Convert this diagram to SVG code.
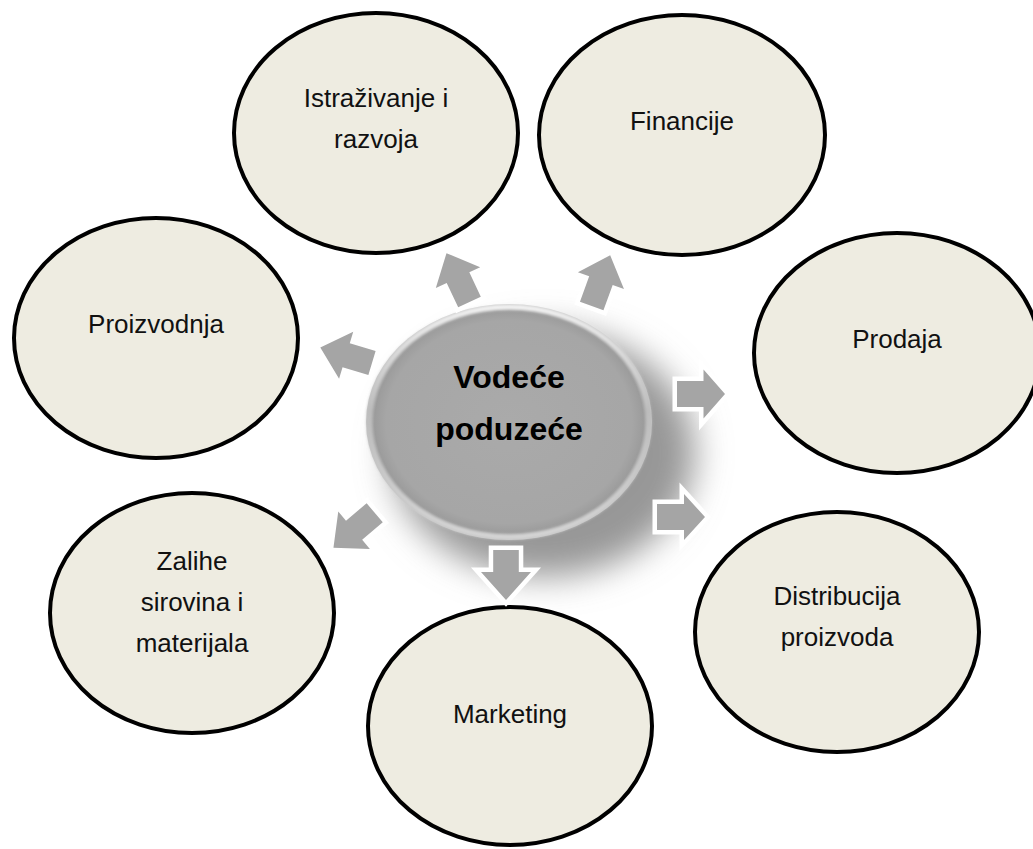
<svg xmlns="http://www.w3.org/2000/svg" width="1033" height="849" viewBox="0 0 1033 849">
<style>
.node ellipse{fill:#EEECE1;stroke:#000;stroke-width:4}
.lbl{font-family:'Liberation Sans',Arial,sans-serif;font-size:26px;fill:#111;text-anchor:middle}
.ctr{font-family:'Liberation Sans',Arial,sans-serif;font-size:32px;font-weight:bold;fill:#000;text-anchor:middle}
.arr{fill:#A5A5A5;stroke:#fff;stroke-width:9;paint-order:stroke;stroke-linejoin:miter}
</style>
<defs>
<filter id="blur" x="-50%" y="-50%" width="200%" height="200%"><feGaussianBlur stdDeviation="17"/></filter>
<filter id="soft" x="-10%" y="-10%" width="120%" height="120%"><feGaussianBlur stdDeviation="1.5"/></filter>
<radialGradient id="cg" cx="50%" cy="50%" r="50%">
<stop offset="0" stop-color="#aaaaaa"/>
<stop offset="0.86" stop-color="#a6a6a6"/>
<stop offset="0.94" stop-color="#9c9c9c"/>
<stop offset="1" stop-color="#c6c6c6"/>
</radialGradient>
<linearGradient id="rim" x1="0" y1="0" x2="0" y2="1">
<stop offset="0" stop-color="#f4f4f4"/>
<stop offset="0.45" stop-color="#bdbdbd"/>
<stop offset="1" stop-color="#d6d6d6"/>
</linearGradient>
</defs>
<g id="center-shadow">
<ellipse cx="543" cy="453" rx="152" ry="124" fill="#979797" filter="url(#blur)"/>
</g>
<g id="n-istrazivanje" class="node">
<ellipse cx="376" cy="133" rx="142" ry="120"/>
<text class="lbl" x="376" y="107">Istraživanje i</text>
<text class="lbl" x="376" y="148">razvoja</text>
</g>
<g id="n-financije" class="node">
<ellipse cx="682" cy="135" rx="143" ry="120"/>
<text class="lbl" x="682" y="130">Financije</text>
</g>
<g id="n-proizvodnja" class="node">
<ellipse cx="156" cy="338" rx="142" ry="120"/>
<text class="lbl" x="156" y="333">Proizvodnja</text>
</g>
<g id="n-prodaja" class="node">
<ellipse cx="897" cy="353" rx="143" ry="120"/>
<text class="lbl" x="897" y="348">Prodaja</text>
</g>
<g id="n-zalihe" class="node">
<ellipse cx="192" cy="613" rx="142" ry="120"/>
<text class="lbl" x="192" y="570">Zalihe</text>
<text class="lbl" x="192" y="611">sirovina i</text>
<text class="lbl" x="192" y="652">materijala</text>
</g>
<g id="n-distribucija" class="node">
<ellipse cx="837" cy="632" rx="142" ry="120"/>
<text class="lbl" x="837" y="605">Distribucija</text>
<text class="lbl" x="837" y="646">proizvoda</text>
</g>
<g id="n-marketing" class="node">
<ellipse cx="510" cy="726" rx="142" ry="119"/>
<text class="lbl" x="510" y="723">Marketing</text>
</g>
<g id="n-center">
<ellipse cx="509" cy="422" rx="143" ry="118" fill="url(#cg)"/>
<ellipse cx="509" cy="422" rx="140" ry="115" fill="none" stroke="url(#rim)" stroke-width="5" filter="url(#soft)"/>
<text class="ctr" x="509" y="388">Vodeće</text>
<text class="ctr" x="509" y="440">poduzeće</text>
</g>
<g id="connectors">
<path class="arr" transform="translate(469.5,302) rotate(-115.2)" d="M0,-12.5 H27 V-24.5 L54,0 L27,24.5 V12.5 H0 Z"/>
<path class="arr" transform="translate(591.7,306) rotate(-70)" d="M0,-12.5 H27 V-24.5 L54,0 L27,24.5 V12.5 H0 Z"/>
<path class="arr" transform="translate(372,363) rotate(-163.2)" d="M0,-12.5 H27 V-24.5 L54,0 L27,24.5 V12.5 H0 Z"/>
<path class="arr" transform="translate(374.7,512.8) rotate(139.8)" d="M0,-12.5 H27 V-24.5 L54,0 L27,24.5 V12.5 H0 Z"/>
<path class="arr" transform="translate(677,394)" d="M0,-13 H26.5 V-24.5 L48,0 L26.5,24.5 V13 H0 Z"/>
<path class="arr" transform="translate(657,517)" d="M0,-13 H27 V-23 L48,0 L27,23 V13 H0 Z"/>
<path class="arr" transform="translate(506,550) rotate(90)" d="M0,-12.8 H22 V-25 L50,0 L22,25 V12.8 H0 Z"/>
</g>
</svg>
